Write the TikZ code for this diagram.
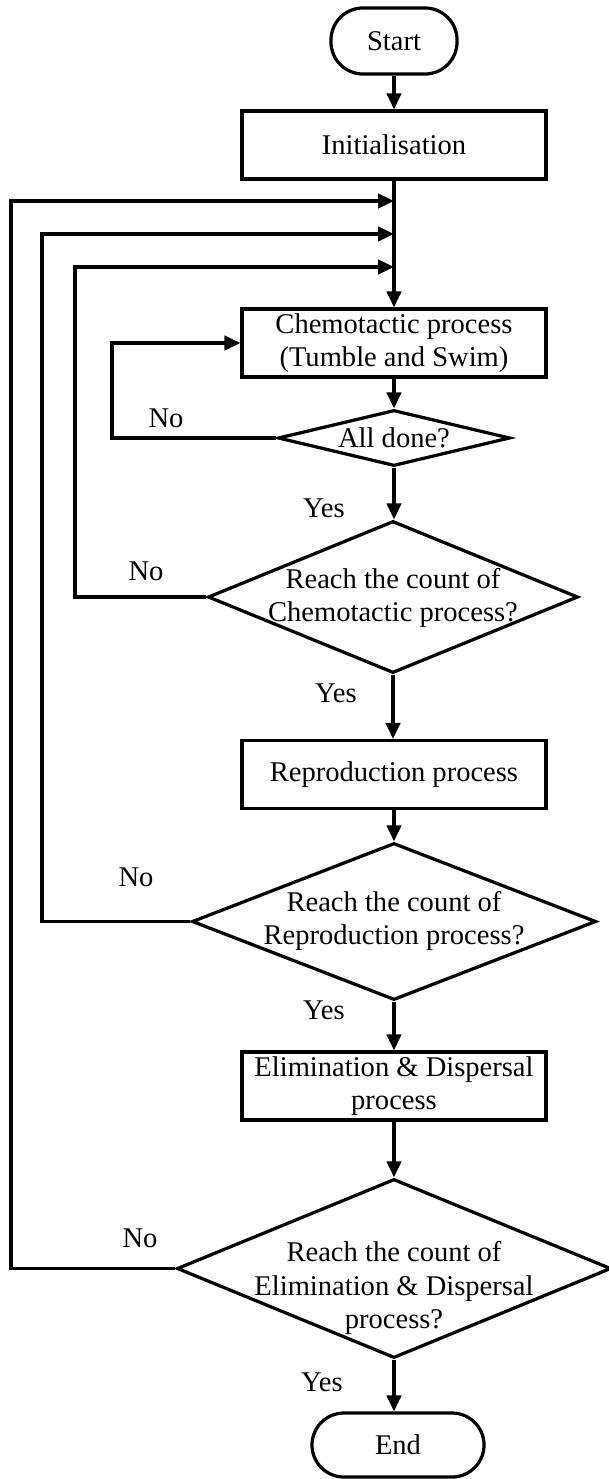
\documentclass[tikz,border=0pt]{standalone}
\usepackage{fontspec}
\setmainfont{Liberation Serif}
\usetikzlibrary{arrows.meta,shapes.geometric}
\begin{document}
\begin{tikzpicture}[x=0.025cm,y=-0.025cm,
  every node/.style={font=\fontsize{20.3}{23.5}\selectfont},
  arr/.style={line width=2.3pt,-{Triangle[length=0.4cm,width=0.36cm]}},
  procbox/.style={draw,line width=2.3pt,rectangle,minimum width=7.6cm,minimum height=1.7cm,inner sep=0pt,align=center},
  terminal/.style={draw,line width=2.3pt,rectangle,rounded corners=0.8cm,inner sep=0pt},
  decision/.style={draw,line width=2.3pt,diamond,inner sep=0pt},
  lbl/.style={inner sep=0pt,align=center}]
\useasboundingbox (0,0) rectangle (609,1479);

% main column
\node[terminal,minimum width=3.15cm,minimum height=1.65cm] (start) at (394,41) {Start};
\node[procbox] (init) at (394,145) {Initialisation};
\node[procbox] (chem) at (394,343) {Chemotactic process\\(Tumble and Swim)};
\node[decision,minimum width=5.8cm,minimum height=1.4cm] (alldone) at (394,438) {};
\node[lbl] (alldonet) at (alldone) {All done?};
\node[decision,minimum width=9.25cm,minimum height=3.8cm] (cdec) at (393,597) {};
\node[lbl] (cdect) at (393,598) {Reach the count of\\Chemotactic process?};
\node[procbox] (repro) at (394,774.5) {Reproduction process};
\node[decision,minimum width=10.1cm,minimum height=3.925cm] (rdec) at (394,921.5) {};
\node[lbl] (rdect) at (394,921) {Reach the count of\\Reproduction process?};
\node[procbox] (elim) at (394,1086) {Elimination \& Dispersal\\process};
\node[decision,minimum width=10.85cm,minimum height=4.475cm] (edec) at (394,1268.5) {};
\node[lbl] (edect) at (394,1288) {Reach the count of\\Elimination \& Dispersal\\process?};
\node[terminal,minimum width=4.3cm,minimum height=1.6cm] (end) at (398,1445) {End};

% branch labels
\node[lbl] (no1) at (166,418) {No};
\node[lbl] (yes1) at (324,508) {Yes};
\node[lbl] (no2) at (146,571) {No};
\node[lbl] (yes2) at (336,693) {Yes};
\node[lbl] (no3) at (136,877) {No};
\node[lbl] (yes3) at (324,1010) {Yes};
\node[lbl] (no4) at (140,1238) {No};
\node[lbl] (yes4) at (322,1382) {Yes};

% junctions where the loops rejoin the main column
\coordinate (j1) at (394,201);
\coordinate (j2) at (394,234);
\coordinate (j3) at (394,267);

% forward flow
\draw[arr] (start) -- (init);
\draw[arr] (init) -- (chem);
\draw[arr] (chem) -- (alldone);
\draw[arr] (alldone) -- (alldone.south |- cdec.north);
\draw[arr] (cdec.south) -- (cdec.south |- repro.north);
\draw[arr] (repro) -- (rdec);
\draw[arr] (rdec) -- (elim);
\draw[arr] (elim) -- (edec);
\draw[arr] (edec.south) -- (edec.south |- end.north);

% feedback loops
\draw[arr] (alldone.west) -| (112,343) -- (chem.west);
\draw[arr] (cdec.west) -| (75,267) -- (j3);
\draw[arr] (rdec.west) -| (42,234) -- (j2);
\draw[arr] (edec.west) -| (11,201) -- (j1);
\end{tikzpicture}
\end{document}
